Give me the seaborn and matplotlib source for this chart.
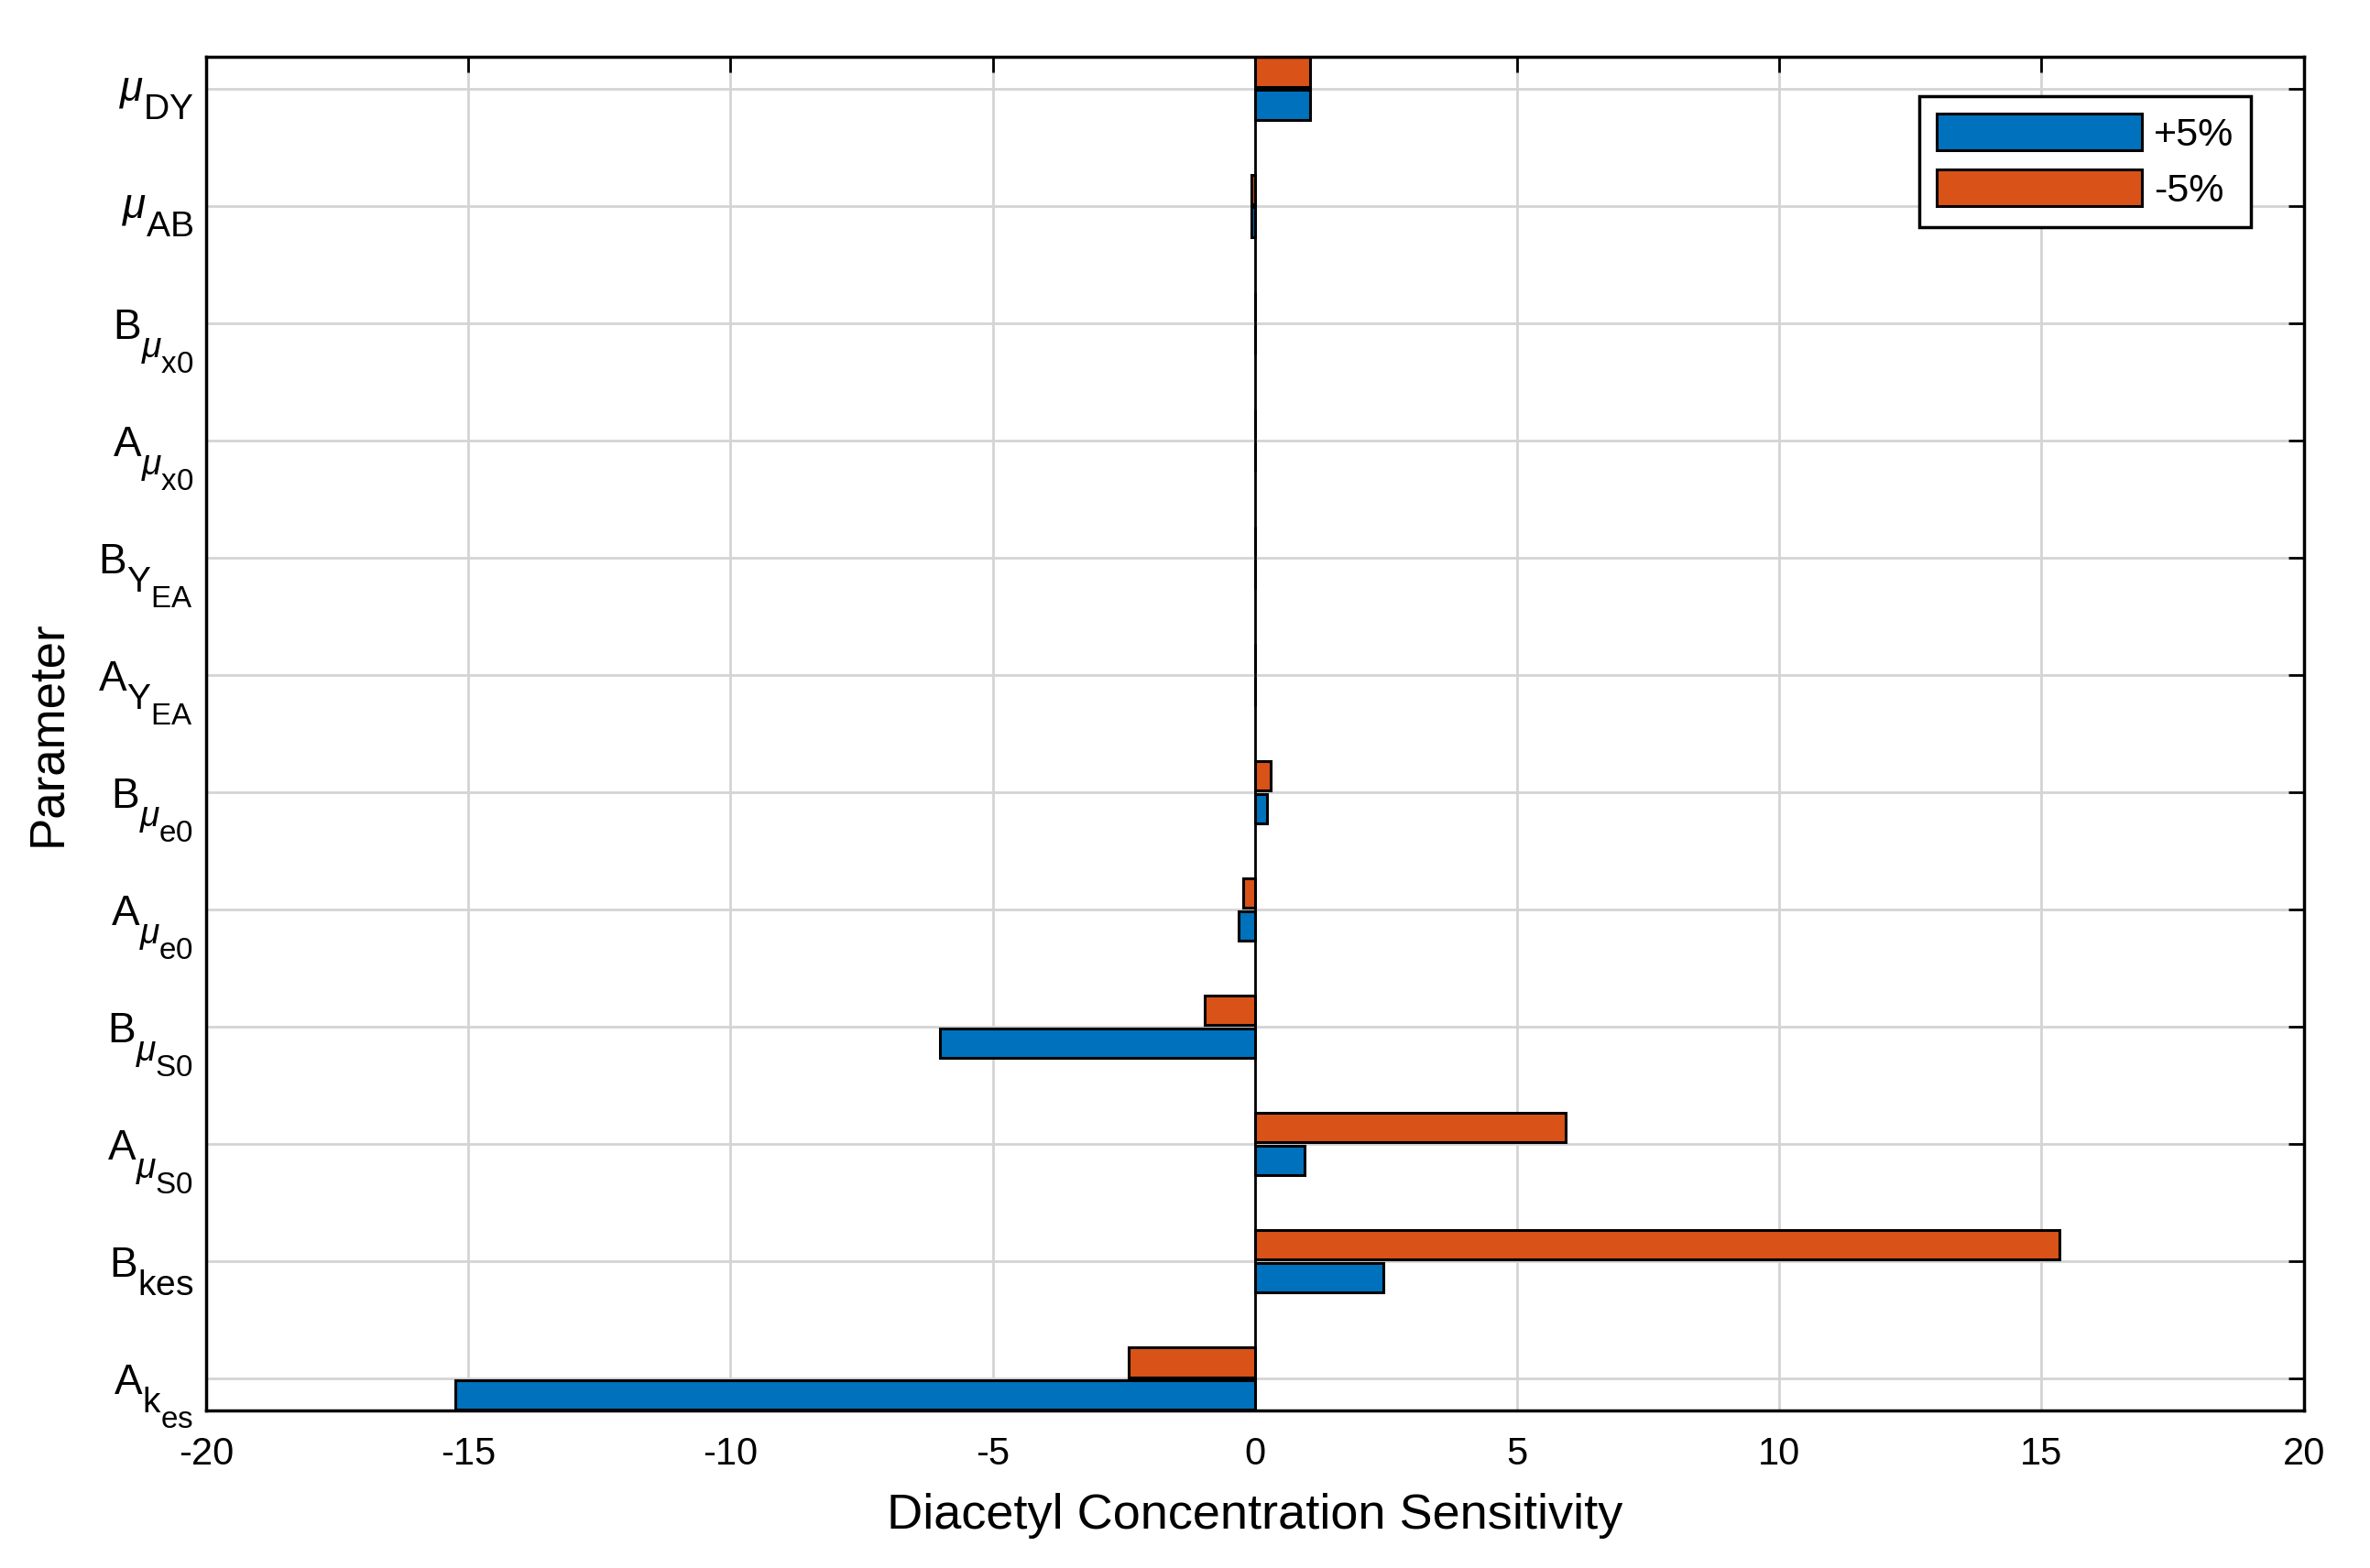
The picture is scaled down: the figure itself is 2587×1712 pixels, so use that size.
#
# Diacetyl concentration sensitivity, +/-5% parameter change
#

import pandas as pd
import matplotlib
matplotlib.use('Agg')
import matplotlib.pyplot as plt
import matplotlib._mathtext as mt
import seaborn as sns

#%%

# Parameters, top to bottom as in the figure
params = [r'$\mu_{\mathrm{DY}}$',
          r'$\mu_{\mathrm{AB}}$',
          r'$\mathrm{B}_{\mu_{\mathrm{x0}}}$',
          r'$\mathrm{A}_{\mu_{\mathrm{x0}}}$',
          r'$\mathrm{B}_{\mathrm{Y}_{\mathrm{EA}}}$',
          r'$\mathrm{A}_{\mathrm{Y}_{\mathrm{EA}}}$',
          r'$\mathrm{B}_{\mu_{\mathrm{e0}}}$',
          r'$\mathrm{A}_{\mu_{\mathrm{e0}}}$',
          r'$\mathrm{B}_{\mu_{\mathrm{S0}}}$',
          r'$\mathrm{A}_{\mu_{\mathrm{S0}}}$',
          r'$\mathrm{B}_{\mathrm{kes}}$',
          r'$\mathrm{A}_{\mathrm{k}_{\mathrm{es}}}$']

plus5 = [1.05, -0.07, 0.0, 0.0, 0.0, 0.0, 0.23, -0.31, -6.0, 0.95, 2.45, -15.25]
minus5 = [1.05, -0.07, 0.0, 0.0, 0.0, 0.0, 0.3, -0.23, -0.96, 5.92, 15.35, -2.4]

cases = ['+5%', '-5%']
colors = {'+5%': '#0072BD', '-5%': '#D95319'}

# long table for seaborn
df = pd.concat([pd.DataFrame({'param': params, 'value': plus5, 'case': cases[0]}),
                pd.DataFrame({'param': params, 'value': minus5, 'case': cases[1]})],
               ignore_index=True)

#%%

sns.set_style('white')
plt.rcParams['font.family'] = ['Liberation Sans', 'DejaVu Sans']
plt.rcParams['mathtext.fontset'] = 'custom'
plt.rcParams['mathtext.rm'] = 'Liberation Sans'
plt.rcParams['mathtext.it'] = 'Liberation Sans:italic'
plt.rcParams['mathtext.bf'] = 'Liberation Sans:bold'
plt.rcParams['axes.unicode_minus'] = False
for k in ['text.color', 'axes.labelcolor', 'xtick.color', 'ytick.color']:
    plt.rcParams[k] = 'black'

# MATLAB-style subscripts: bigger and dropped lower than mathtext's default
mt.SHRINK_FACTOR = 0.85
mt.FontConstantsBase.sub1 = 0.8

fig = plt.figure(figsize=(25.87, 17.12), dpi=100)
ax = fig.add_axes([0.087, 0.1005, 0.885, 0.8633])

# -5% first so it sits above the tick, like the original
sns.barplot(data=df, x='value', y='param', hue='case', hue_order=['-5%', '+5%'],
            palette=colors, orient='h', width=0.56, gap=0.1,
            edgecolor='black', linewidth=2.2, saturation=1, ax=ax)

ax.axvline(0, color='black', lw=2, zorder=1.5)

ax.set_xlim(-20, 20)
ax.set_ylim(11.27, -0.27)
ax.set_xticks(range(-20, 21, 5))

ax.grid(True, color='#d4d4d4', lw=2)
ax.set_axisbelow(True)
for s in ax.spines.values():
    s.set_color('black')
    s.set_linewidth(2.5)

ax.tick_params(direction='in', top=True, right=True, length=12, width=2,
               labelsize=30)
ax.tick_params(axis='x', pad=20)
ax.tick_params(axis='y', labelsize=33, pad=10)

ax.set_xlabel('Diacetyl Concentration Sensitivity', fontsize=39, labelpad=16)
ax.set_ylabel('Parameter', fontsize=38, labelpad=22)

# legend: +5% first
handles, labels = ax.get_legend_handles_labels()
leg = ax.legend([handles[1], handles[0]], [labels[1], labels[0]],
                loc='upper right', bbox_to_anchor=(0.975, 0.971), borderaxespad=0,
                fontsize=31, handlelength=5.2, handleheight=1.05, handletextpad=0.3,
                labelspacing=0.4, borderpad=0.45, fancybox=False,
                edgecolor='black', framealpha=1)
leg.get_frame().set_linewidth(2.5)

fig.savefig('out.png', dpi=100)
